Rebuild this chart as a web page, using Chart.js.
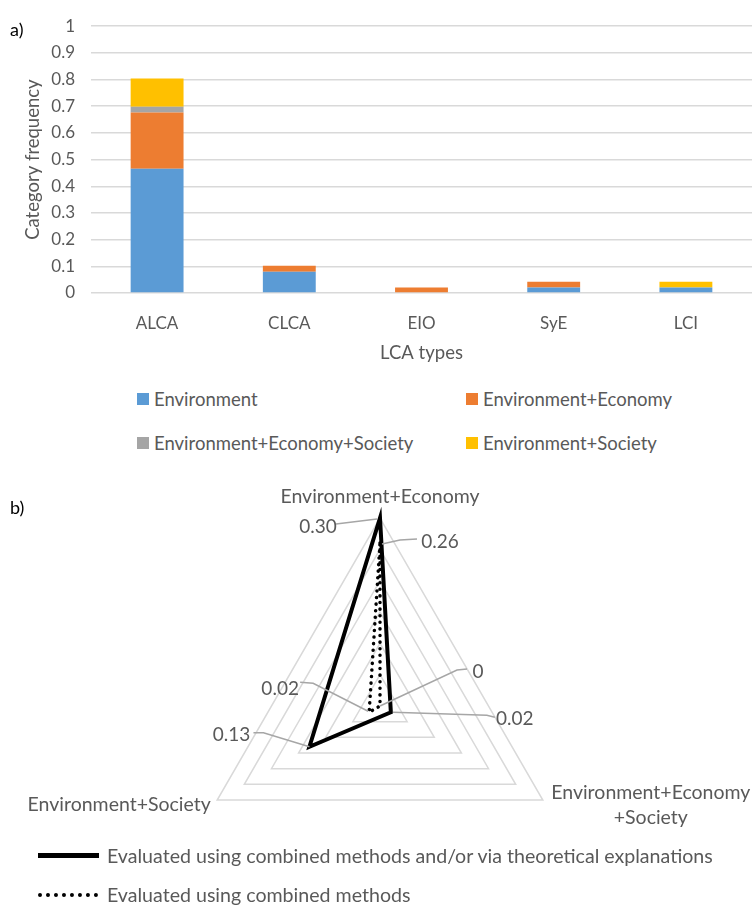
<!DOCTYPE html>
<html><head><meta charset="utf-8">
<script src="https://cdn.jsdelivr.net/npm/chart.js@4.4.1/dist/chart.umd.min.js"></script>
<style>
html,body{margin:0;padding:0;background:#fff;}
body{width:753px;height:905px;position:relative;overflow:hidden;font-family:Lato,sans-serif;color:#595959;}
canvas{position:absolute;left:0;}
#c1{top:0;}
#c2{top:470px;}
.sw{position:absolute;width:12px;height:12px;}
.lt{position:absolute;white-space:nowrap;font-size:18.5px;line-height:22px;}
.lt2{position:absolute;white-space:nowrap;font-size:19.6px;line-height:22px;}
.tag{position:absolute;font-size:18px;line-height:20px;color:#000;}
.ln{position:absolute;width:61px;height:0;border-top:5px solid #000;}
.ld{position:absolute;width:60px;height:0;border-top:4px dotted #000;}
</style></head><body>
<canvas id="c1" width="753" height="380"></canvas>
<canvas id="c2" width="753" height="435"></canvas>
<div class="tag" style="left:10px;top:19px;">a)</div>
<div class="tag" style="left:10px;top:497px;">b)</div>
<div id="legend1"></div>
<div id="legend2"></div>
<script>
// ---- Bar chart data ----
const categories = ['ALCA', 'CLCA', 'EIO', 'SyE', 'LCI'];
const seriesNames = ['Environment', 'Environment+Economy', 'Environment+Economy+Society', 'Environment+Society'];
const envValues = [0.466, 0.08, 0, 0.021, 0.021];
const envEconValues = [0.211, 0.022, 0.021, 0.021, 0];
const envEconSocValues = [0.021, 0, 0, 0, 0];
const envSocValues = [0.106, 0, 0, 0, 0.021];
const yAxisTitle = 'Category frequency';
const xAxisTitle = 'LCA types';

// ---- Radar chart data ----
const radarAxes = ['Environment+Economy', ['Environment+Economy', '+Society'], 'Environment+Society'];
const radarSeriesNames = ['Evaluated using combined methods and/or via theoretical explanations', 'Evaluated using combined methods'];
const combinedOrTheory = [0.30, 0.02, 0.13];
const combinedOnly = [0.26, 0, 0.02];

const barColors = ['#5b9bd5', '#ed7d31', '#a5a5a5', '#ffc000'];
const txt = '#595959';
Chart.defaults.font.family = 'Lato, sans-serif';
Chart.defaults.color = txt;

new Chart(document.getElementById('c1'), {
  type: 'bar',
  data: {
    labels: categories,
    datasets: [envValues, envEconValues, envEconSocValues, envSocValues].map((d, i) => ({
      label: seriesNames[i], data: d, backgroundColor: barColors[i],
      barPercentage: 0.4, categoryPercentage: 1, borderWidth: 0
    }))
  },
  options: {
    responsive: false, animation: false,
    layout: { padding: { top: 24, right: 1, left: 0, bottom: 0 } },
    plugins: { legend: { display: false }, tooltip: { enabled: false } },
    scales: {
      x: {
        stacked: true,
        grid: { display: false },
        border: { display: false },
        ticks: { font: { size: 17 }, color: txt, padding: 12 },
        title: { display: true, text: xAxisTitle, font: { size: 18.5 }, color: txt, padding: { top: 0, bottom: 16 } },
        afterFit: s => { s.height = 87; }
      },
      y: {
        stacked: true, min: 0, max: 1,
        grid: { color: '#d9d9d9', lineWidth: 1.5, drawTicks: false },
        border: { display: false },
        ticks: { stepSize: 0.1, font: { size: 17 }, color: txt, padding: 16,
                 callback: v => String(Number(v.toFixed(2))) },
        title: { display: true, text: yAxisTitle, font: { size: 18.5 }, color: txt, padding: { top: 22, bottom: 0 } },
        afterFit: s => { s.width = 91; }
      }
    }
  }
});

// legends (HTML)
(function () {
  const L = document.getElementById('legend1');
  const pos = [[137, 399], [466, 399], [137, 443], [466, 443]];
  seriesNames.forEach((n, i) => {
    const [x, y] = pos[i];
    L.insertAdjacentHTML('beforeend',
      `<div class="sw" style="left:${x}px;top:${y - 6}px;background:${barColors[i]}"></div>` +
      `<div class="lt" style="left:${x + 17}px;top:${y - 11}px;">${n}</div>`);
  });
  const R = document.getElementById('legend2');
  const ry = [856, 895];
  radarSeriesNames.forEach((n, i) => {
    R.insertAdjacentHTML('beforeend',
      `<div class="${i ? 'ld' : 'ln'}" style="left:38px;top:${ry[i] - (i ? 2 : 3)}px;"></div>` +
      `<div class="lt2" style="left:107px;top:${ry[i] - 11}px;">${n}</div>`);
  });
})();

// radar label plugin
const labelOffsets = [
  { dx: 0, dy: -21, lines: [0] },
  { dx: 108, dy: -7, lines: [0, 25] },
  { dx: -98, dy: 5, lines: [0] }
];
// data label offsets and leader lines, per dataset, per point
const dataLabelCfg = [
  [ { dx: -62, dy: 9, lead: [[-44, 6], [-3, 1]] },
    { dx: 124, dy: 7, lead: [[104, 5], [96, 3], [2, 0]] },
    { dx: -78, dy: -12, lead: [[-56, -14], [-46, -14], [0, 0]] } ],
  [ { dx: 60, dy: -1, lead: [[37, -4], [20, -3], [2, 1]] },
    { dx: 98, dy: -34, lead: [[87, -37], [77, -36], [0, 0]] },
    { dx: -89, dy: -23, lead: [[-69, -30], [-56, -29], [-1, -1]] } ]
];
const radarLabels = {
  id: 'radarLabels',
  afterDatasetsDraw(chart) {
    const ctx = chart.ctx, r = chart.scales.r;
    ctx.save();
    chart.data.datasets.forEach((ds, di) => {
      const meta = chart.getDatasetMeta(di);
      meta.data.forEach((pt, i) => {
        const c = dataLabelCfg[di][i];
        ctx.strokeStyle = '#a6a6a6'; ctx.lineWidth = 1.5; ctx.setLineDash([]);
        ctx.beginPath();
        c.lead.forEach((p, k) => { const X = pt.x + p[0], Y = pt.y + p[1]; k ? ctx.lineTo(X, Y) : ctx.moveTo(X, Y); });
        ctx.stroke();
        const v = ds.data[i];
        ctx.fillStyle = txt; ctx.font = '19px Lato, sans-serif';
        ctx.textAlign = 'center'; ctx.textBaseline = 'middle';
        ctx.fillText(v === 0 ? '0' : v.toFixed(2), pt.x + c.dx, pt.y + c.dy);
      });
    });
    chart.data.labels.forEach((lab, i) => {
      const p = r.getPointPosition(i, r.drawingArea);
      const o = labelOffsets[i];
      const lines = Array.isArray(lab) ? lab : [lab];
      ctx.fillStyle = txt; ctx.font = '19.5px Lato, sans-serif';
      ctx.textAlign = 'center'; ctx.textBaseline = 'middle';
      lines.forEach((t, k) => ctx.fillText(t, p.x + o.dx, p.y + o.dy + o.lines[k]));
    });
    ctx.restore();
  }
};

new Chart(document.getElementById('c2'), {
  type: 'radar',
  data: {
    labels: radarAxes,
    datasets: [
      { label: radarSeriesNames[0], data: combinedOrTheory, borderColor: '#000', borderWidth: 4, fill: false, pointRadius: 0, borderJoinStyle: 'miter' },
      { label: radarSeriesNames[1], data: combinedOnly, borderColor: '#000', borderWidth: 3.5, fill: false, pointRadius: 0, borderDash: [0.1, 6.5], borderCapStyle: 'round' }
    ]
  },
  options: {
    responsive: false, animation: false,
    layout: { padding: { top: 48, bottom: 11, left: 7, right: 0 } },
    plugins: { legend: { display: false }, tooltip: { enabled: false } },
    elements: { line: { tension: 0 } },
    scales: {
      r: {
        min: 0, max: 0.3,
        ticks: { display: false, stepSize: 0.05 },
        grid: { color: '#d9d9d9', lineWidth: 1.5 },
        angleLines: { display: false },
        pointLabels: { display: false }
      }
    }
  },
  plugins: [radarLabels]
});
</script>
</body></html>
